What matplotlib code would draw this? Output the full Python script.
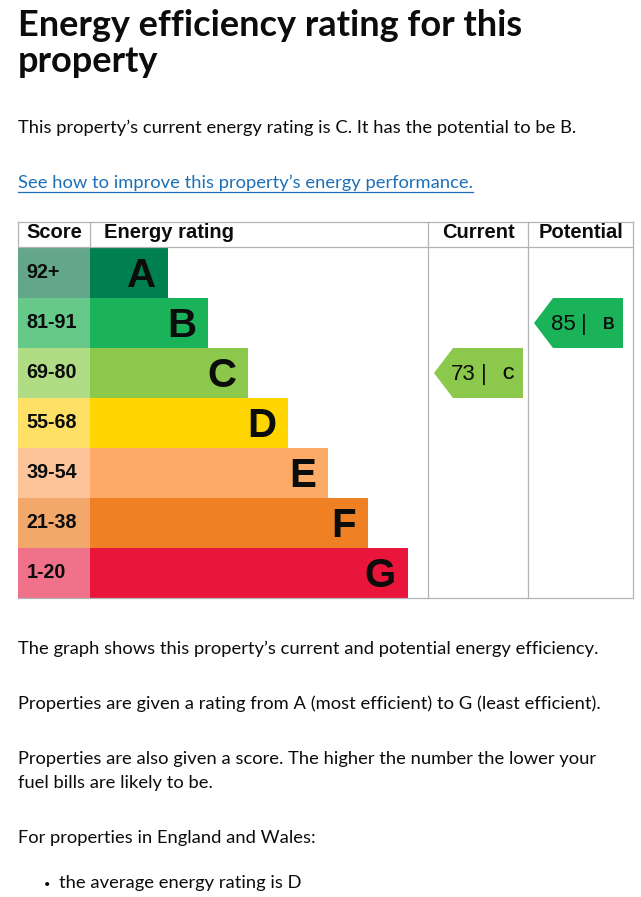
import matplotlib
matplotlib.use("Agg")
import matplotlib.pyplot as plt
from matplotlib.patches import Rectangle, Polygon

# chart data
bands = ["A", "B", "C", "D", "E", "F", "G"]
score_ranges = ["92+", "81-91", "69-80", "55-68", "39-54", "21-38", "1-20"]
band_min = [92, 81, 69, 55, 39, 21, 1]
current_score = 73
potential_score = 85

title_lines = ["Energy efficiency rating for this", "property"]
summary = "This property\u2019s current energy rating is C. It has the potential to be B."
link_text = "See how to improve this property\u2019s energy performance."
notes = [
    "The graph shows this property\u2019s current and potential energy efficiency.",
    "Properties are given a rating from A (most efficient) to G (least efficient).",
    "Properties are also given a score. The higher the number the lower your",
    "fuel bills are likely to be.",
    "For properties in England and Wales:",
]
bullet = "the average energy rating is D"

# styles
bar_colours = ["#007f51", "#1bb35a", "#8cc84b", "#ffd500", "#fcaa65", "#ef8023", "#e9153b"]
score_colours = ["#64a68a", "#66c98a", "#b0dc86", "#ffe066", "#fdc49a", "#f3a86b", "#f0718a"]
ink = "#0b0c0c"
link_blue = "#1d70b8"
grid = "#b1b4b6"
body_font = "Lato"
table_font = "Liberation Sans"

W, H = 641, 897
fig = plt.figure(figsize=(W / 100, H / 100), dpi=100)
ax = fig.add_axes([0, 0, 1, 1])
ax.set_xlim(0, W)
ax.set_ylim(H, 0)
ax.axis("off")
renderer = fig.canvas.get_renderer()


def fit_width(txt, width_px):
    bb = txt.get_window_extent(renderer)
    txt.set_fontsize(txt.get_fontsize() * width_px / bb.width)
    return txt.get_fontsize()


# heading and intro text
t1 = ax.text(18, 36, title_lines[0], fontsize=24, fontweight="bold", family=body_font,
             color=ink, va="baseline")
tsize = fit_width(t1, 505)
ax.text(18, 72, title_lines[1], fontsize=tsize, fontweight="bold", family=body_font,
        color=ink, va="baseline")

s = ax.text(18, 133, summary, fontsize=13, family=body_font, color=ink, va="baseline")
bsize = fit_width(s, 557)
ax.text(18, 188, link_text, fontsize=bsize, family=body_font, color=link_blue, va="baseline")
ax.plot([18, 473], [192, 192], color=link_blue, lw=0.9)

# table geometry
left, score_w = 18, 72
top, head_h, row_h = 222, 25, 50
col_cur, col_pot, right = 428, 528, 633
row0 = top + head_h + 1
bottom = row0 + row_h * len(bands)

for y in (top, top + head_h, bottom):
    ax.plot([left, right], [y, y], color=grid, lw=0.9)
for x in (left, left + score_w):
    ax.plot([x, x], [top, top + head_h], color=grid, lw=0.9)
for x in (col_cur, col_pot, right):
    ax.plot([x, x], [top, bottom], color=grid, lw=0.9)

hy = top + 16
head_kw = dict(fontsize=14.5, fontweight="bold", family=table_font, color=ink, va="baseline")
ax.text(left + 36, hy, "Score", ha="center", **head_kw)
ax.text(104, hy, "Energy rating", ha="left", **head_kw)
ax.text((col_cur + col_pot) / 2, hy, "Current", ha="center", **head_kw)
ax.text((col_pot + right) / 2 + 0.5, hy, "Potential", ha="center", **head_kw)

bar_x0 = left + score_w
for i, (band, rng) in enumerate(zip(bands, score_ranges)):
    y0 = row0 + i * row_h
    ax.add_patch(Rectangle((left, y0), score_w, row_h, color=score_colours[i], lw=0))
    bar_end = bar_x0 + 78 + 40 * i
    ax.add_patch(Rectangle((bar_x0, y0), bar_end - bar_x0, row_h, color=bar_colours[i], lw=0))
    ax.text(26.5, y0 + 30, rng, fontsize=14.2, fontweight="bold", family=table_font,
            color=ink, va="baseline")
    ax.text(bar_end - 12, y0 + 39, band, fontsize=29, fontweight="bold", family=table_font,
            color=ink, ha="right", va="baseline")


def band_index(score):
    for i, lo in enumerate(band_min):
        if score >= lo:
            return i
    return len(band_min) - 1


def rating_arrow(score, col_left):
    i = band_index(score)
    y0 = row0 + i * row_h
    x0 = col_left + 6
    x1 = x0 + 89
    pts = [(x0, y0 + row_h / 2), (x0 + 19, y0), (x1, y0), (x1, y0 + row_h), (x0 + 19, y0 + row_h)]
    ax.add_patch(Polygon(pts, closed=True, color=bar_colours[i], lw=0))
    yb = y0 + row_h / 2 + 7
    ax.text(x0 + 17, yb, str(score), fontsize=16, family=table_font, color=ink,
            ha="left", va="baseline")
    ax.text(x0 + 50, yb, "|", fontsize=16, family=table_font, color=ink,
            ha="center", va="baseline")
    ax.text(x0 + 80, yb - 1, bands[i], fontsize=11.5, fontweight="bold", family=table_font,
            color=ink, ha="right", va="baseline")


rating_arrow(current_score, col_cur)
rating_arrow(potential_score, col_pot)

# notes under the chart
note_y = [654, 709, 764, 788, 843]
for y, line in zip(note_y, notes):
    ax.text(18, y, line, fontsize=bsize, family=body_font, color=ink, va="baseline")
ax.text(44, 888, "\u2022", fontsize=bsize * 0.6, family=body_font, color=ink, va="baseline")
ax.text(59, 888, bullet, fontsize=bsize, family=body_font, color=ink, va="baseline")

fig.savefig("out.png", dpi=100, facecolor="white")
